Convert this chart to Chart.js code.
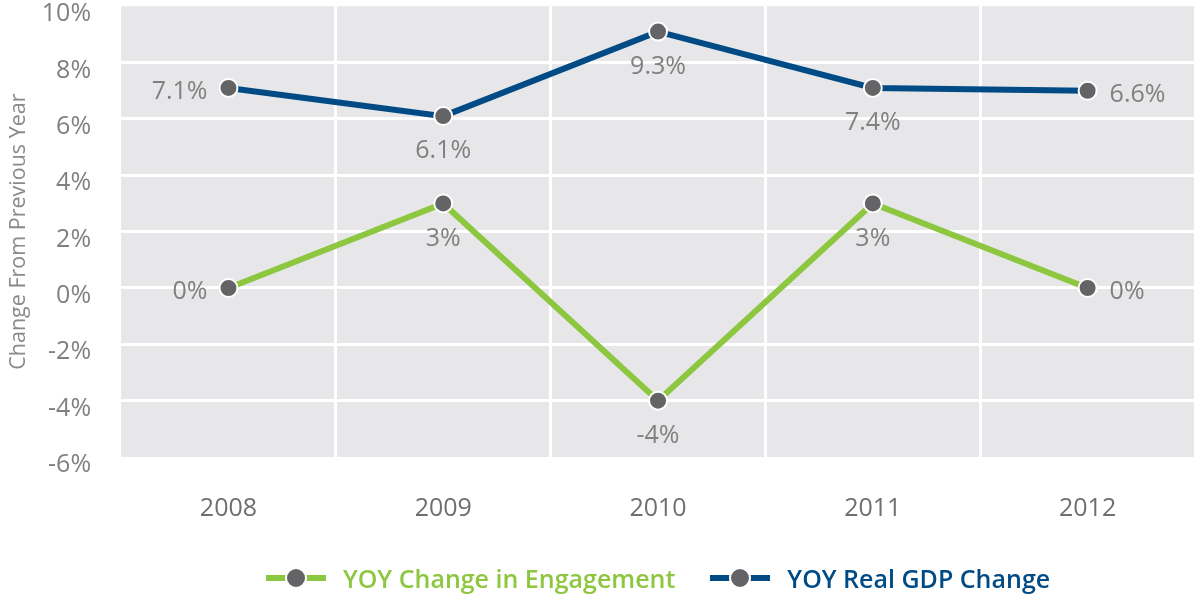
<!DOCTYPE html>
<html>
<head>
<meta charset="utf-8">
<script src="https://cdn.jsdelivr.net/npm/chart.js@4.4.1/dist/chart.umd.min.js"></script>
<style>
  html, body { margin: 0; padding: 0; background: #fff; }
  #wrap { position: relative; width: 1195px; height: 594px; }
  #legend {
    position: absolute; left: 0; top: 561px; width: 1195px;
    display: flex; justify-content: center; gap: 35px;
    font-family: "Open Sans", sans-serif; font-weight: 600; font-size: 25px;
  }
  .item { display: flex; align-items: center; }
  .icon { position: relative; width: 60px; height: 22px; margin-right: 17px; }
  .icon .ln { position: absolute; left: 0; right: 0; top: 8px; height: 6px; }
  .icon .dot {
    position: absolute; left: 19px; top: 0; width: 18px; height: 18px; border-radius: 50%;
    background: #646467; border: 2px solid #fff;
  }
</style>
</head>
<body>
<div id="wrap">
  <canvas id="chart" width="1195" height="594"></canvas>
  <div id="legend"></div>
</div>
<script>
const years = ["2008", "2009", "2010", "2011", "2012"];
const engagement = [0, 3, -4, 3, 0];
const gdp = [7.1, 6.1, 9.1, 7.1, 7.0];
const engagementLabels = ["0%", "3%", "-4%", "3%", "0%"];
const gdpLabels = ["7.1%", "6.1%", "9.3%", "7.4%", "6.6%"];

const green = "#8dc63f";
const blue = "#004b85";
const grey = "#808080";
const none = "rgba(0,0,0,0)";

// gray plot background
const plotBg = {
  id: "plotBg",
  beforeDraw(chart) {
    const { ctx, chartArea: a } = chart;
    ctx.save();
    ctx.fillStyle = "#e7e7e9";
    ctx.fillRect(a.left, a.top, a.right - a.left, a.bottom - a.top);
    ctx.restore();
  }
};

// value labels next to the points
const pointLabels = {
  id: "pointLabels",
  afterDatasetsDraw(chart) {
    const ctx = chart.ctx;
    ctx.save();
    ctx.font = "25px 'Open Sans'";
    ctx.fillStyle = grey;
    ctx.textBaseline = "middle";
    chart.data.datasets.forEach((ds, di) => {
      chart.getDatasetMeta(di).data.forEach((pt, i) => {
        const txt = ds.valueLabels[i];
        if (i === 0) {
          ctx.textAlign = "right";
          ctx.fillText(txt, pt.x - 21, pt.y + 4);
        } else if (i === ds.data.length - 1) {
          ctx.textAlign = "left";
          ctx.fillText(txt, pt.x + 22, pt.y + 4);
        } else {
          ctx.textAlign = "center";
          ctx.fillText(txt, pt.x, pt.y + 35);
        }
      });
    });
    ctx.restore();
  }
};

// legend under the plot, centred on the plot area
function makeLegend(chart) {
  const box = document.getElementById("legend");
  box.style.left = chart.chartArea.left + "px";
  box.style.width = (chart.chartArea.right - chart.chartArea.left) + "px";
  box.innerHTML = "";
  chart.data.datasets.forEach(ds => {
    const item = document.createElement("div");
    item.className = "item";
    item.innerHTML = '<span class="icon"><span class="ln" style="background:' + ds.borderColor +
      '"></span><span class="dot"></span></span><span style="color:' + ds.borderColor + '">' + ds.label + '</span>';
    box.appendChild(item);
  });
}

const ctx = document.getElementById("chart").getContext("2d");
const chart = new Chart(ctx, {
  type: "line",
  data: {
    labels: years,
    datasets: [
      { label: "YOY Change in Engagement", data: engagement, valueLabels: engagementLabels, borderColor: green },
      { label: "YOY Real GDP Change", data: gdp, valueLabels: gdpLabels, borderColor: blue }
    ]
  },
  options: {
    responsive: false,
    animation: false,
    layout: { autoPadding: false, padding: { top: 6, right: 0, bottom: 70, left: 0 } },
    elements: {
      line: { borderWidth: 6, tension: 0, fill: false },
      point: { radius: 9, borderWidth: 2 }
    },
    datasets: {
      line: { pointBackgroundColor: "#646467", pointBorderColor: "#fff", pointBorderWidth: 2, pointRadius: 9 }
    },
    clip: false,
    scales: {
      x: {
        offset: true,
        grid: {
          offset: true, drawTicks: true, tickLength: 37, tickColor: none, lineWidth: 3,
          color: c => (c.index === 0 ? none : "#fff")
        },
        border: { display: false },
        ticks: { color: "#6f6f6f", padding: 0, font: { family: "Open Sans", size: 25 } }
      },
      y: {
        min: -6, max: 10,
        grid: {
          drawTicks: true, tickLength: 30, tickColor: none, lineWidth: 3,
          color: c => (c.tick && (c.tick.value === 10 || c.tick.value === -6) ? none : "#fff")
        },
        border: { display: false },
        ticks: {
          stepSize: 2, padding: 0, labelOffset: 8, color: grey,
          font: { family: "Open Sans", size: 25, lineHeight: 0.5 },
          callback: v => v + "%"
        },
        title: {
          display: true, text: "Change From Previous Year", color: "#8a8a8a",
          font: { family: "Open Sans", size: 21.5 }, padding: { top: 6, bottom: 10 }
        }
      }
    },
    plugins: {
      legend: { display: false },
      tooltip: { enabled: false }
    }
  },
  plugins: [plotBg, pointLabels]
});
makeLegend(chart);
</script>
</body>
</html>
